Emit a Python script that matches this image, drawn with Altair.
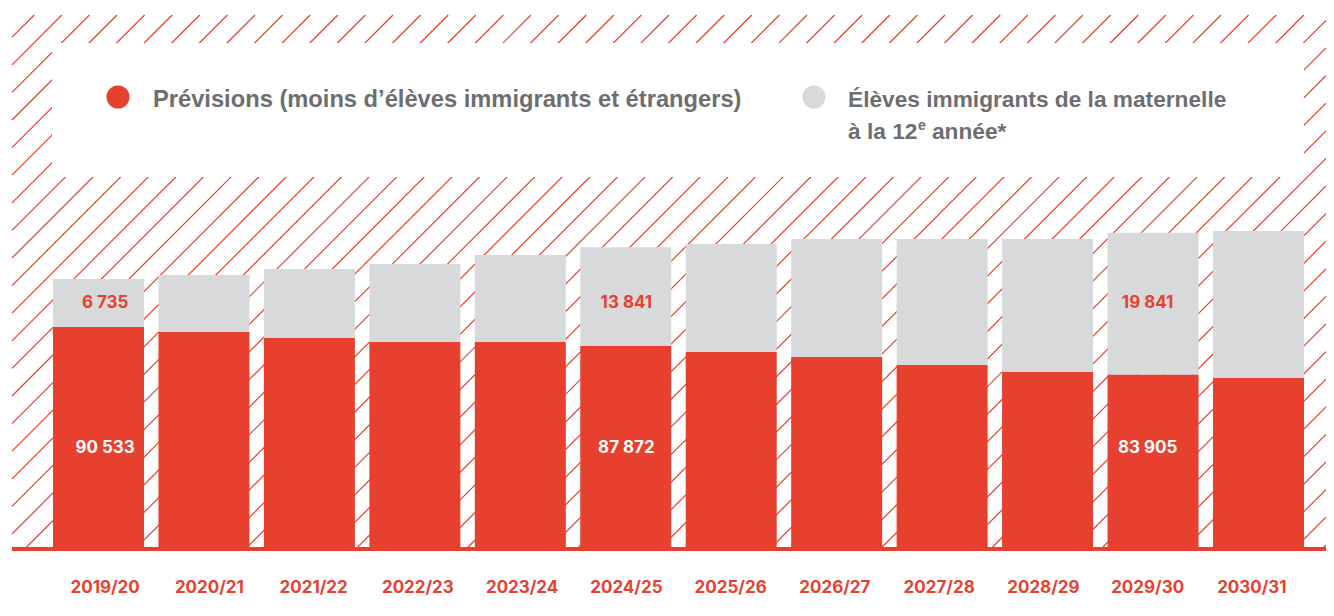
import altair as alt
import pandas as pd
import numpy as np

# ---------------- data ----------------
years = ["2019/20", "2020/21", "2021/22", "2022/23", "2023/24", "2024/25",
         "2025/26", "2026/27", "2027/28", "2028/29", "2029/30", "2030/31"]
previsions = [90533, 89840, 89000, 88440, 88440, 87872,
              87040, 86340, 85220, 84240, 83905, 83400]
immigrants = [6735, 7980, 9660, 10920, 12180, 13841,
              15120, 16520, 17640, 18620, 19841, 20580]
labelled_years = ["2019/20", "2024/25", "2029/30"]

legend_red = "Prévisions (moins d’élèves immigrants et étrangers)"
legend_gray_1 = "Élèves immigrants de la maternelle"
legend_gray_2a = "à la 12"
legend_gray_2b = "e"
legend_gray_2c = "année*"

# ---------------- styles ----------------
RED = "#e8402f"
GRAY = "#d8d9da"
TXT = "#6d6e71"
W, H = 1318, 600
BASE = 539
V0 = 59740
PER_PX = 140

def fmt(v):
    return f"{v:,}".replace(",", " ")

df = pd.DataFrame({"year": years, "prev": previsions, "imm": immigrants})
df["total"] = df["prev"] + df["imm"]
df["floor"] = V0
df["prev_lbl"] = [fmt(v) if y in labelled_years else "" for y, v in zip(years, previsions)]
df["imm_lbl"] = [fmt(v) if y in labelled_years else "" for y, v in zip(years, immigrants)]

xscale = alt.Scale(domain=years, range=[45, 1296], paddingInner=0.137, paddingOuter=0)
yscale = alt.Scale(domain=[V0, V0 + BASE * PER_PX], range=[BASE, 0], zero=False)
px_x = alt.Scale(domain=[0, W], range=[0, W])
px_y = alt.Scale(domain=[0, H], range=[0, H])

# ---------------- hatch background (decoration) ----------------
hx0, hx1, hy0, hy1 = 4, W, 7, 539
segs = []
c = 88.4 - 27.6 * 40
while c < hx1 + hy1 + 30:
    lo = max(hx0, c - hy1)
    hi = min(hx1, c - hy0)
    if lo < hi:
        segs.append({"x1": lo, "y1": c - lo, "x2": hi, "y2": c - hi})
    c += 27.6
hatch_df = pd.DataFrame(segs)

hatch = alt.Chart(hatch_df).mark_rule(color=RED, strokeWidth=1.2).encode(
    x=alt.X("x1:Q", scale=px_x, axis=None),
    x2="x2:Q",
    y=alt.Y("y1:Q", scale=px_y, axis=None),
    y2="y2:Q",
)

one = pd.DataFrame({"a": [0]})
legend_box = alt.Chart(one).mark_rect(fill="white").encode(
    x=alt.value(44), x2=alt.value(1296), y=alt.value(35), y2=alt.value(169)
)

base = alt.Chart(df)
red_bars = base.mark_bar(color=RED).encode(
    x=alt.X("year:N", scale=xscale, axis=None, sort=years),
    y=alt.Y("prev:Q", scale=yscale, axis=None),
    y2="floor:Q",
)
gray_bars = base.mark_bar(color=GRAY).encode(
    x=alt.X("year:N", scale=xscale, axis=None, sort=years),
    y=alt.Y("total:Q", scale=yscale, axis=None),
    y2="prev:Q",
)

baseline = alt.Chart(one).mark_rule(color=RED, strokeWidth=4).encode(
    x=alt.value(4), x2=alt.value(W), y=alt.value(541)
)

imm_text = base.mark_text(font="Inter", fontWeight="bold", fontSize=17, color=RED,
                          baseline="middle").encode(
    x=alt.X("year:N", scale=xscale, axis=None, sort=years),
    y=alt.value(295),
    text="imm_lbl:N",
)
prev_text = base.mark_text(font="Inter", fontWeight="bold", fontSize=17, color="white",
                           baseline="middle").encode(
    x=alt.X("year:N", scale=xscale, axis=None, sort=years),
    y=alt.value(440),
    text="prev_lbl:N",
)
year_text = base.mark_text(font="Inter", fontWeight="bold", fontSize=17, color=RED,
                           baseline="middle").encode(
    x=alt.X("year:N", scale=xscale, axis=None, sort=years),
    y=alt.value(580),
    text="year:N",
)

# ---------------- legend ----------------
leg_font = "Liberation Sans"
dot_red = alt.Chart(one).mark_circle(color=RED, opacity=1, size=530).encode(
    x=alt.value(110), y=alt.value(89))
dot_gray = alt.Chart(one).mark_circle(color=GRAY, opacity=1, size=530).encode(
    x=alt.value(806), y=alt.value(89))

def ltext(txt, x, y, size=22.7):
    return alt.Chart(one).mark_text(
        text=txt, font=leg_font, fontWeight="bold", fontSize=size, color=TXT,
        align="left", baseline="alphabetic"
    ).encode(x=alt.value(x), y=alt.value(y))

leg1 = ltext(legend_red, 145, 99, size=23.7)
leg2 = ltext(legend_gray_1, 840, 99)
leg3 = ltext(legend_gray_2a, 840, 131)
leg4 = ltext(legend_gray_2b, 910, 122, size=14)
leg5 = ltext(legend_gray_2c, 924, 131)

chart = alt.layer(
    hatch, legend_box, red_bars, gray_bars, baseline,
    imm_text, prev_text, year_text,
    dot_red, dot_gray, leg1, leg2, leg3, leg4, leg5,
).resolve_scale(x="independent", y="independent").properties(
    width=W, height=H, padding=0, autosize="none", background="white"
).configure_view(strokeWidth=0)

chart.save("out.html", embed_options={"renderer": "svg", "actions": False})
